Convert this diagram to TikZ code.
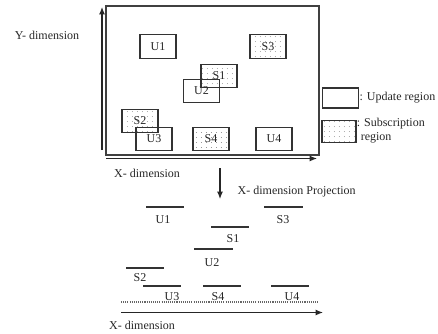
\documentclass[tikz,border=0pt]{standalone}
\usepackage{fontspec}
\setmainfont{Liberation Serif}
\usepackage{tikz}
\usetikzlibrary{arrows.meta,patterns.meta}
\tikzset{
  every node/.style={font=\fontsize{9}{10}\selectfont,text=black!85},
  upd/.style={draw=black!80,line width=0.8pt,minimum width=27pt,minimum height=17.6pt,inner sep=0pt},
  sub/.style={upd,pattern={Dots[distance=4pt,radius=0.35pt]},pattern color=black!55},
  proj/.style={draw=black!80,line width=0.8pt},
  axis/.style={draw=black!85,line width=0.9pt,-{Latex[length=5.5pt,width=4.5pt]}}
}
\begin{document}
\begin{tikzpicture}[x=0.75pt,y=-0.75pt]
\useasboundingbox(0,0)rectangle(438,333);
% plane with the regions
\draw[black!75,line width=1.1pt](106,6)rectangle(319,155);
\coordinate(ya)at(102,150);\coordinate(yb)at(102,7);
\coordinate(xa)at(106,158.5);\coordinate(xb)at(317,158.5);
\draw[axis](ya)--(yb);\draw[axis](xa)--(xb);
\node(ylab)at(47,35){Y- dimension};
\node(xlab)at(147,173){X- dimension};
\foreach\n/\x/\y in{U1/158/46.5,U2/201.5/91,U3/154/139,U4/274/139}{\node[upd](\n)at(\x,\y){\n};}
\foreach\n/\x/\y in{S1/219/76,S2/140/121,S3/268/46.5,S4/211/139}{\node[sub](\n)at(\x,\y){\n};}
% legend
\node[upd,minimum width=27.5pt,minimum height=15pt](lu)at(340.5,98){};
\node[sub,minimum width=25.5pt,minimum height=17pt](ls)at(339,131.5){};
\node[anchor=west,inner sep=0pt](lut)at(lu.east){: Update region};
\node[anchor=north west,inner sep=0pt,align=left](lst)at([yshift=1pt]ls.north east){: Subscription\\\hspace{3pt}region};
% projection
\coordinate(pa)at(220,168);\coordinate(pb)at(220,199);
\draw[axis](pa)--(pb);
\node[anchor=west](plab)at(233,192){X- dimension Projection};
\foreach\n/\a/\b/\y/\lx/\ly in{U1/146/184/207/163/220,S3/264/303/207/283/220,S1/211/249/227/233/239,
  U2/194/233/249/212/263,S2/126/164/268/140/278,U3/143/181/286/172/297,S4/203/241/286/218/297,U4/271/309/286/292/297}{
  \draw[proj](\a,\y)--(\b,\y);\node(p\n)at(\lx,\ly){\n};}
\draw[black!60,line width=0.8pt,dash pattern=on 0.8pt off 0.8pt](121,302)--(318,302);
\coordinate(qa)at(121,312.5);\coordinate(qb)at(323,312.5);
\draw[axis](qa)--(qb);
\node(qlab)at(142,325){X- dimension};
\end{tikzpicture}
\end{document}
